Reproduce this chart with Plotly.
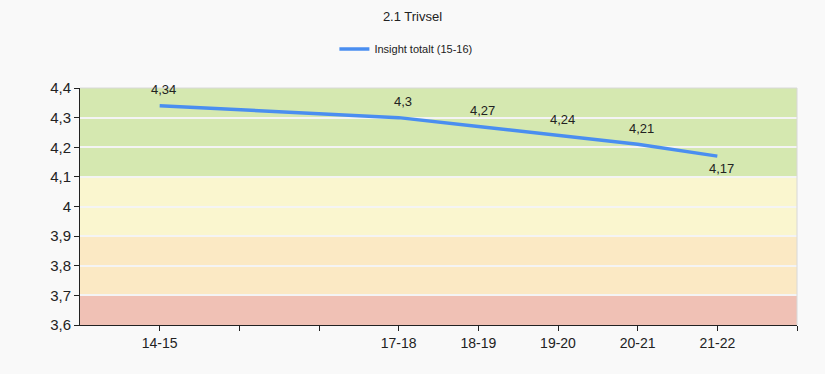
import plotly.graph_objects as go

categories = ["14-15", "15-16", "16-17", "17-18", "18-19", "19-20", "20-21", "21-22"]
series_x = ["14-15", "17-18", "18-19", "19-20", "20-21", "21-22"]
series_values = [4.34, 4.30, 4.27, 4.24, 4.21, 4.17]
label_below = [False, False, False, False, False, True]
series_name = "Insight totalt (15-16)"
tick_labels = ["14-15", "", "", "17-18", "18-19", "19-20", "20-21", "21-22", ""]
y_ticks = [3.6, 3.7, 3.8, 3.9, 4.0, 4.1, 4.2, 4.3, 4.4]
bands = [(3.6, 3.7, "#f0c1b5"), (3.7, 3.9, "#fbe9c4"), (3.9, 4.1, "#faf6cf"), (4.1, 4.4, "#d5e8b0")]

FONT = "Liberation Sans Narrow, Liberation Sans, sans-serif"

pos = {c: i + 1 for i, c in enumerate(categories)}
xs = [pos[c] for c in series_x]

def fmt(v):
    s = f"{v:.2f}".rstrip("0").rstrip(".")
    return s.replace(".", ",")

fig = go.Figure()
fig.add_trace(go.Scatter(
    x=xs, y=series_values, mode="lines", name=series_name,
    line=dict(color="#4a8ef0", width=3.5),
    showlegend=True,
))

for x, v, below in zip(xs, series_values, label_below):
    fig.add_annotation(x=x, y=v, xref="x", yref="y", text=fmt(v), showarrow=False,
                       xshift=4, yshift=-12 if below else 16,
                       font=dict(family=FONT, size=13, color="#222"))

for y0, y1, col in bands:
    fig.add_shape(type="rect", xref="x", yref="y", x0=0, x1=len(categories) + 1,
                  y0=y0, y1=y1, fillcolor=col, line_width=0, layer="below")

fig.update_layout(
    width=825, height=374,
    paper_bgcolor="#f9f9f9", plot_bgcolor="#f9f9f9",
    margin=dict(l=80, r=28, t=88, b=49),
    title=dict(text="2.1 Trivsel", x=0.5, xref="container", y=1 - 16 / 374, yref="container",
               xanchor="center", yanchor="middle",
               font=dict(family=FONT, size=13, color="#222")),
    legend=dict(orientation="h", x=0.492, xref="container", xanchor="center",
                y=1 - 49 / 374, yref="container", yanchor="middle",
                bgcolor="rgba(0,0,0,0)",
                font=dict(family=FONT, size=11, color="#222"),
                itemwidth=30),
    font=dict(family="Liberation Sans, sans-serif", color="#222"),
)
fig.update_xaxes(
    range=[0, len(categories) + 1], tickvals=list(range(1, len(categories) + 2)), ticktext=tick_labels,
    showgrid=False, zeroline=False, showline=True, linecolor="#222", linewidth=1,
    ticks="outside", ticklen=5, tickcolor="#222",
    tickfont=dict(family=FONT, size=14, color="#222"),
)
fig.update_yaxes(
    range=[3.6, 4.4], tickvals=y_ticks, ticktext=[fmt(v) for v in y_ticks],
    showgrid=True, gridcolor="#f4f4f4", gridwidth=1.5, zeroline=False,
    showline=True, linecolor="#222", linewidth=1,
    ticks="outside", ticklen=5, tickcolor="#222",
    tickfont=dict(family="Liberation Sans, sans-serif", size=15, color="#222"),
)
fig.add_shape(type="line", xref="paper", yref="paper", x0=1, x1=1, y0=0, y1=1,
              line=dict(color="#d8d8d8", width=1))
fig.add_shape(type="line", xref="paper", yref="paper", x0=0, x1=1, y0=1, y1=1,
              line=dict(color="#d8d8d8", width=1))

fig.write_html("out.html", config={"displayModeBar": False},
               post_script="document.body.style.margin='0';document.body.style.background='#f9f9f9';")
